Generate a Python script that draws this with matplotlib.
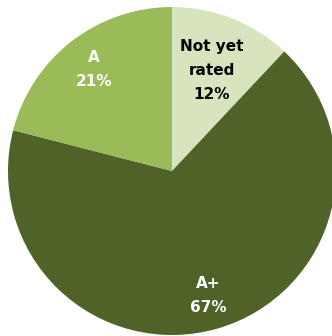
import matplotlib.pyplot as plt
import numpy as np

labels = ["Not yet\nrated", "A+", "A"]
shares = [12, 67, 21]
colors = ["#D7E4BD", "#4F6228", "#9BBB59"]
text_colors = ["black", "white", "white"]
label_radius = [0.66, 0.79, 0.78]

fig = plt.figure(figsize=(3.32, 3.36), dpi=100)
ax = fig.add_axes([0, 0, 1, 1])

cx, cy, r = 172, 165, 164
wedges, _ = ax.pie(shares, colors=colors, startangle=90, counterclock=False,
                   center=(cx, cy), radius=r, frame=True,
                   wedgeprops=dict(linewidth=0))
ax.set_xlim(0, 332)
ax.set_ylim(0, 336)
ax.set_aspect("equal")
ax.axis("off")

for w, lab, s, tc, lr in zip(wedges, labels, shares, text_colors, label_radius):
    ang = np.deg2rad((w.theta1 + w.theta2) / 2)
    x = cx + r * lr * np.cos(ang)
    y = cy + r * lr * np.sin(ang)
    ax.text(x, y, f"{lab}\n{s}%", ha="center", va="center", color=tc,
            fontsize=11, fontweight="bold", family="Liberation Sans Narrow",
            linespacing=1.75)

fig.savefig("out.png", dpi=100)
